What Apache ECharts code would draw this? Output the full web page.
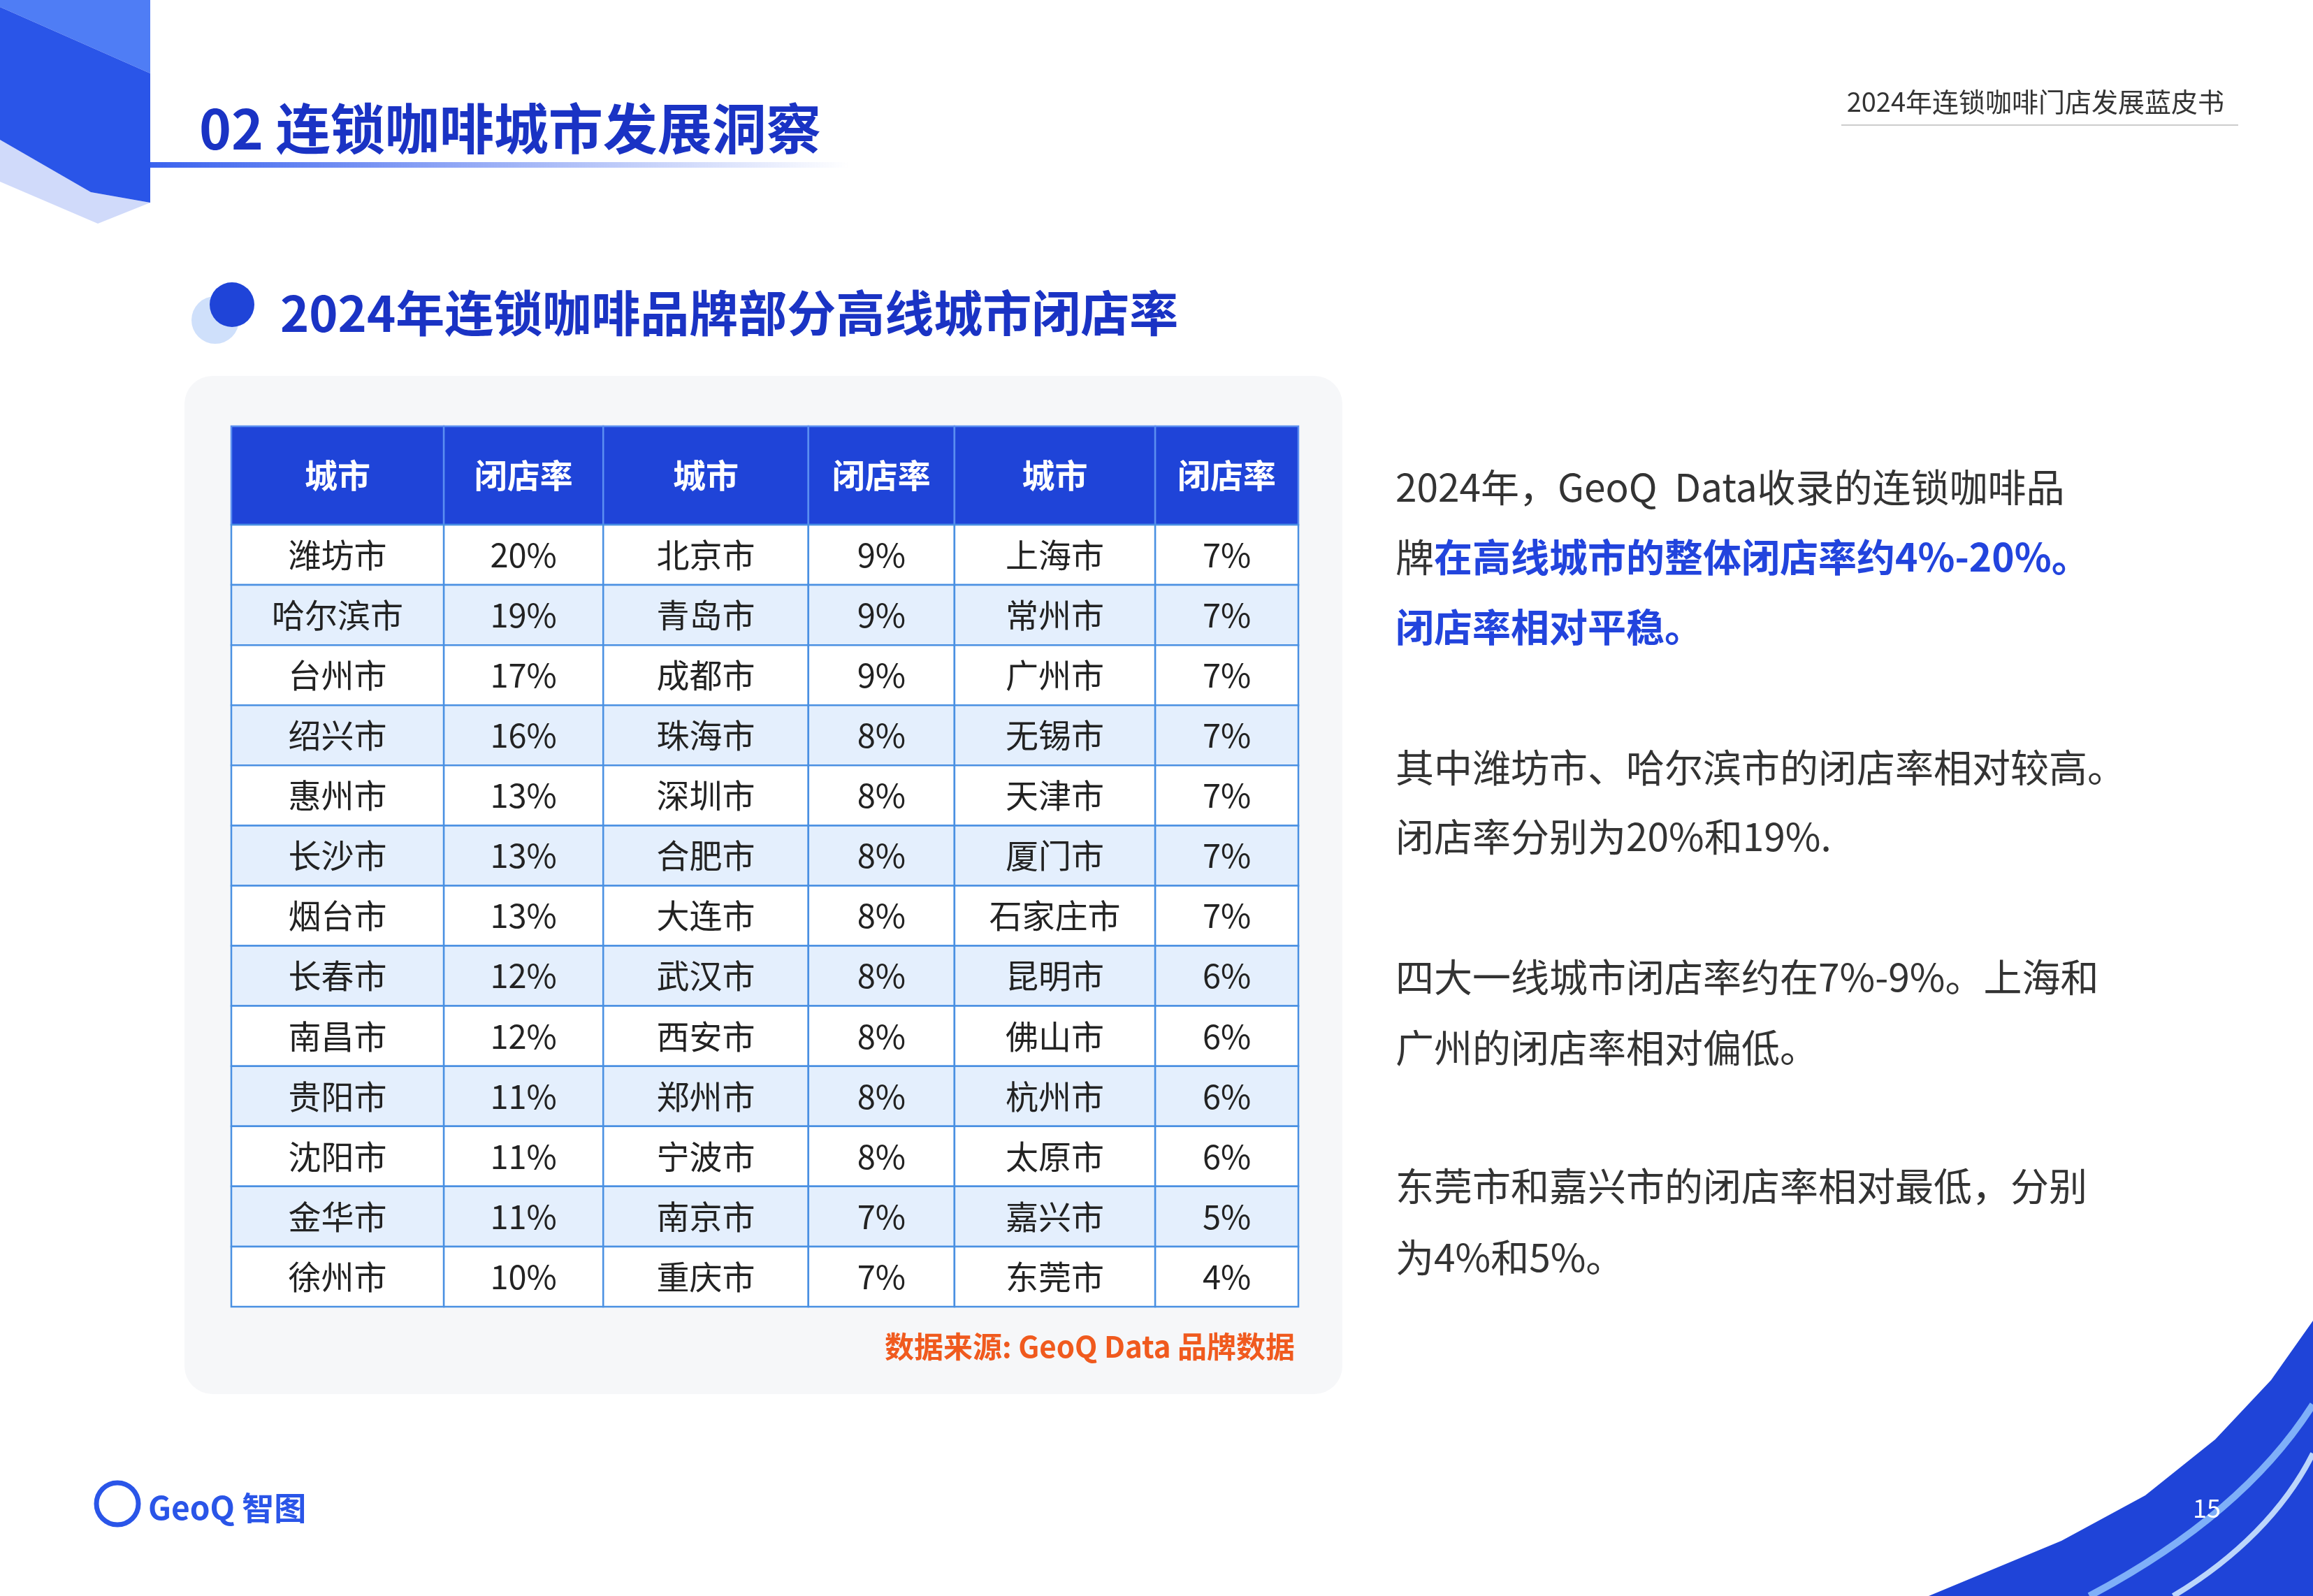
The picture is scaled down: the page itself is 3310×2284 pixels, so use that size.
<!DOCTYPE html>
<html><head><meta charset="utf-8">
<script src="https://cdn.jsdelivr.net/npm/echarts@6/dist/echarts.min.js"></script>
<style>html,body{margin:0;padding:0;background:#fff}#c{width:3310px;height:2284px}</style>
</head><body><div id="c"></div>
<script>
const headers = ['城市','闭店率','城市','闭店率','城市','闭店率'];
const citiesA = ['潍坊市','哈尔滨市','台州市','绍兴市','惠州市','长沙市','烟台市','长春市','南昌市','贵阳市','沈阳市','金华市','徐州市'];
const ratesA = [20,19,17,16,13,13,13,12,12,11,11,11,10];
const citiesB = ['北京市','青岛市','成都市','珠海市','深圳市','合肥市','大连市','武汉市','西安市','郑州市','宁波市','南京市','重庆市'];
const ratesB = [9,9,9,8,8,8,8,8,8,8,8,7,7];
const citiesC = ['上海市','常州市','广州市','无锡市','天津市','厦门市','石家庄市','昆明市','佛山市','杭州市','太原市','嘉兴市','东莞市'];
const ratesC = [7,7,7,7,7,7,7,6,6,6,6,5,4];

const colW = [144,108,139,99,136,97];
const colTot = colW.reduce((a,b)=>a+b,0);
const rowsCat = ['h'].concat(citiesA.map((_,i)=>'r'+i));
const cells = [];
headers.forEach((h,c)=>cells.push([c,0,h]));
[[citiesA,ratesA],[citiesB,ratesB],[citiesC,ratesC]].forEach(([cs,rs],g)=>{
  cs.forEach((n,i)=>{cells.push([g*2,i+1,n]);cells.push([g*2+1,i+1,rs[i]+'%']);});
});
const FF = '"Noto Sans CJK SC","Noto Sans",sans-serif';
const chart = echarts.init(document.getElementById('c'));
const hdrH=141;
const BT = '55px '+FF;
chart.setOption({
  animation:false,
  grid:{left:331,top:610,width:1527,height:1260},
  xAxis:{type:'category',data:headers,show:false},
  yAxis:{type:'category',data:rowsCat,inverse:true,show:false},
  graphic:[
    {type:'rect',shape:{x:264,y:538,width:1657,height:1457,r:40},style:{fill:'#f6f7f9'},z:-10},
    {type:'polygon',shape:{points:[[0,0],[215,0],[215,105],[0,10]]},style:{fill:'#4f7df5'},z:-5},
    {type:'polygon',shape:{points:[[0,10],[215,105],[215,290],[130,275],[0,200]]},style:{fill:'#2a55e8'},z:-5},
    {type:'polygon',shape:{points:[[0,200],[130,275],[215,290],[140,320],[0,260]]},style:{fill:'rgba(120,150,240,0.35)'},z:-6},
    {type:'rect',shape:{x:215,y:232,width:1000,height:8},style:{fill:new echarts.graphic.LinearGradient(0,0,1,0,[{offset:0,color:'#3a62ee'},{offset:1,color:'rgba(58,98,238,0)'}])}},
    {type:'text',x:285,y:184,style:{text:'02 连锁咖啡城市发展洞察',font:'bold 78px '+FF,fill:'#1a33c4',verticalAlign:'middle'}},
    {type:'text',x:3183,y:146,style:{text:'2024年连锁咖啡门店发展蓝皮书',font:'38px '+FF,fill:'#333',align:'right',verticalAlign:'middle'}},
    {type:'rect',shape:{x:2635,y:178,width:568,height:2},style:{fill:'#ccc'}},
    {type:'circle',shape:{cx:308,cy:458,r:34},style:{fill:'#cfe0fb'}},
    {type:'circle',shape:{cx:332,cy:436,r:32},style:{fill:'#1f44d8'}},
    {type:'text',x:401,y:448,style:{text:'2024年连锁咖啡品牌部分高线城市闭店率',font:'bold 70px '+FF,fill:'#1a33c4',verticalAlign:'middle'}},
    {type:'text',x:1853,y:1927,style:{text:'数据来源: GeoQ Data 品牌数据',font:'bold 42px '+FF,fill:'#f05a1e',align:'right',verticalAlign:'middle'}},
    {type:'text',x:1997,y:697,style:{text:'2024年，GeoQ  Data收录的连锁咖啡品',font:BT,fill:'#333',verticalAlign:'middle'}},
    {type:'text',x:1997,y:797,style:{text:'{a|牌}{b|在高线城市的整体闭店率约4%-20%。}',verticalAlign:'middle',rich:{a:{font:BT,fill:'#333'},b:{font:'bold '+BT,fill:'#2244dd'}}}},
    {type:'text',x:1997,y:897,style:{text:'闭店率相对平稳。',font:'bold '+BT,fill:'#2244dd',verticalAlign:'middle'}},
    {type:'text',x:1997,y:1098,style:{text:'其中潍坊市、哈尔滨市的闭店率相对较高。',font:BT,fill:'#333',verticalAlign:'middle'}},
    {type:'text',x:1997,y:1197,style:{text:'闭店率分别为20%和19%.',font:BT,fill:'#333',verticalAlign:'middle'}},
    {type:'text',x:1997,y:1398,style:{text:'四大一线城市闭店率约在7%-9%。上海和',font:BT,fill:'#333',verticalAlign:'middle'}},
    {type:'text',x:1997,y:1499,style:{text:'广州的闭店率相对偏低。',font:BT,fill:'#333',verticalAlign:'middle'}},
    {type:'text',x:1997,y:1697,style:{text:'东莞市和嘉兴市的闭店率相对最低，分别',font:BT,fill:'#333',verticalAlign:'middle'}},
    {type:'text',x:1997,y:1799,style:{text:'为4%和5%。',font:BT,fill:'#333',verticalAlign:'middle'}},
    {type:'polygon',shape:{points:[[3310,1890],[3250,1975],[3170,2060],[3070,2140],[2950,2205],[2760,2284],[3310,2284]]},style:{fill:'#1f44d8'},z:-5},
    {type:'bezierCurve',shape:{x1:3310,y1:2010,cpx1:3240,cpy1:2120,cpx2:3130,cpy2:2210,x2:2990,y2:2284},style:{stroke:'#7fb0f8',lineWidth:10,fill:'none'},z:-4},
    {type:'bezierCurve',shape:{x1:3310,y1:2080,cpx1:3270,cpy1:2160,cpx2:3200,cpy2:2230,x2:3110,y2:2284},style:{stroke:'#bcd6fb',lineWidth:8,fill:'none'},z:-4},
    {type:'text',x:3158,y:2158,style:{text:'15',font:'36px '+FF,fill:'#fff',align:'center',verticalAlign:'middle'},z:5},
    {type:'circle',shape:{cx:168,cy:2152,r:30},style:{fill:'none',stroke:'#2a55e8',lineWidth:7}},
    {type:'text',x:212,y:2158,style:{text:'GeoQ 智图',font:'bold 46px '+FF,fill:'#2a55e8',verticalAlign:'middle'}}
  ],
  series:[{
    type:'custom',
    coordinateSystem:'cartesian2d',
    data:cells,
    encode:{x:0,y:1},
    renderItem:function(params,api){
      const cs=params.coordSys;
      const c=api.value(0), r=api.value(1);
      let x=cs.x; for(let i=0;i<c;i++) x+=colW[i]/colTot*cs.width;
      const w=colW[c]/colTot*cs.width;
      const rowH=(cs.height-hdrH)/13;
      const y = r===0?cs.y:cs.y+hdrH+(r-1)*rowH;
      const h = r===0?hdrH:rowH;
      const fill = r===0?'#1f44d8':(r%2===0?'#e4effd':'#ffffff');
      return {type:'group',children:[
        {type:'rect',shape:{x:x,y:y,width:w,height:h},style:{fill:fill,stroke:r===0?'#5b8ef0':'#4a90e2',lineWidth:2.5}},
        {type:'text',style:{x:x+w/2,y:y+h/2,text:api.value(2),align:'center',verticalAlign:'middle',
          font:(r===0?'bold ':'')+'47px '+FF,fill:r===0?'#fff':'#222'}}
      ]};
    }
  }]
});
</script></body></html>
